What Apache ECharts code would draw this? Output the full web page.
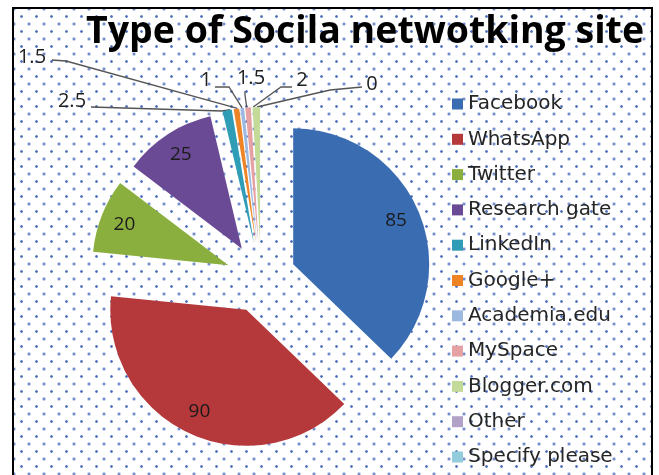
<!DOCTYPE html>
<html><head><meta charset="utf-8">
<script src="https://cdn.jsdelivr.net/npm/echarts@6/dist/echarts.min.js"></script>
<style>
html,body{margin:0;padding:0;width:659px;height:475px;overflow:hidden;background:#fff;}
#frame{position:absolute;left:12px;top:7px;width:637px;height:480px;border:2px solid #000;background-color:#fff;
background-image:radial-gradient(circle, rgba(45,85,175,0.85) 0.9px, rgba(45,85,175,0) 1.7px),radial-gradient(circle, rgba(45,85,175,0.85) 0.9px, rgba(45,85,175,0) 1.7px);
background-size:15px 15px;background-position:0 0,7.5px 7.5px;}
#chart{position:absolute;left:0;top:0;width:659px;height:475px;}
</style></head>
<body><div id="frame"></div><div id="chart"></div>
<script>
// ---- data ----
const titleText = 'Type of Socila netwotking site';
const categories = ['Facebook','WhatsApp','Twitter','Research gate','LinkedIn','Google+','Academia.edu','MySpace','Blogger.com','Other','Specify please'];
const values = [85, 90, 20, 25, 2.5, 1.5, 1, 1.5, 2, 0, null];

// ---- styles / layout ----
const colors = ['#3A6CB1','#B5383A','#8BAF3F','#6A4A94','#2F9DB6','#EF8424','#9DB9E0','#E6A1A3','#C4DA99','#B3A2C7','#93CDDD'];
const PIE_CENTER = [261, 278];
const PIE_R = 136;
const EXPLODE = 35;
const LABEL_CENTER = [257, 243];   // centre of the exploded group of thin slices
const outsideLabelSpots = {
  'LinkedIn':     {x:72,  y:101, line:[[222,111],[91,107]]},
  'Google+':      {x:32,  y:57,  line:[[66,61],[52,60]]},
  'Academia.edu': {x:206, y:80,  line:[[229,87],[215,87]]},
  'MySpace':      {x:251, y:78,  line:[[245,95],[245,91]]},
  'Blogger.com':  {x:302, y:80,  line:[[281,87],[292,87]]},
  'Other':        {x:372, y:84,  line:[[330,90],[362,87]]}
};
const FONT = '"Open Sans", sans-serif';
const isSmall = v => v != null && v < 5;

const chart = echarts.init(document.getElementById('chart'), null, {renderer:'canvas'});
const baseData = categories.map((n, i) => ({
  name: n,
  value: values[i] == null ? '-' : values[i]
}));

const option = {
  animation: false,
  color: colors,
  title: {
    text: titleText, left: 81, top: 8,
    textStyle: {fontSize: 37.5, fontWeight: 'bold', color: '#000', fontFamily: FONT}
  },
  legend: {
    orient: 'vertical', left: 452, top: 94, height: 380, padding: 0,
    itemWidth: 11, itemHeight: 11, itemGap: 15.3, icon: 'rect',
    textStyle: {fontSize: 20, color: '#262626', fontFamily: '"DejaVu Sans", sans-serif'},
    data: categories
  },
  series: [
    { // slices (all exploded)
      type: 'pie', center: PIE_CENTER, radius: PIE_R, startAngle: 90, clockwise: true,
      selectedMode: 'multiple', selectedOffset: EXPLODE, silent: true,
      data: baseData.map(d => Object.assign({}, d, {selected: true})),
      label: {show: false}, labelLine: {show: false},
      emphasis: {disabled: true}
    },
    { // inside value labels of the large slices
      type: 'pie', center: PIE_CENTER, radius: [PIE_R * 0.6, PIE_R], startAngle: 90, clockwise: true,
      selectedMode: 'multiple', selectedOffset: EXPLODE, silent: true,
      itemStyle: {color: 'rgba(0,0,0,0)'},
      data: baseData.map(d => Object.assign({}, d, {selected: true})),
      label: {position: 'inside', fontSize: 19, color: '#1a1a1a', fontFamily: FONT,
              formatter: p => (typeof p.value === 'number' && p.value >= 5) ? String(p.value) : ''},
      labelLine: {show: false},
      emphasis: {disabled: true}
    },
    { // leader-line labels of the thin slices
      type: 'pie', center: LABEL_CENTER, radius: PIE_R, startAngle: 90, clockwise: true,
      silent: true, avoidLabelOverlap: false,
      itemStyle: {color: 'rgba(0,0,0,0)'},
      data: baseData.map((d, i) => Object.assign({}, d, {
        label: {show: isSmall(values[i])},
        labelLine: {show: isSmall(values[i])}
      })),
      label: {position: 'outside', formatter: '{c}', fontSize: 20, color: '#222', fontFamily: FONT},
      labelLine: {length: 10, length2: 10, lineStyle: {color: '#555', width: 1.3}},
      labelLayout: function (p) {
        const s = outsideLabelSpots[categories[p.dataIndex]];
        if (!s || !p.labelLinePoints) return {};
        const start = p.labelLinePoints[0];
        return {x: s.x, y: s.y, align: 'center', verticalAlign: 'middle',
                labelLinePoints: [start, s.line[0], s.line[1]]};
      },
      emphasis: {disabled: true}
    }
  ]
};
chart.setOption(option);
</script></body></html>
